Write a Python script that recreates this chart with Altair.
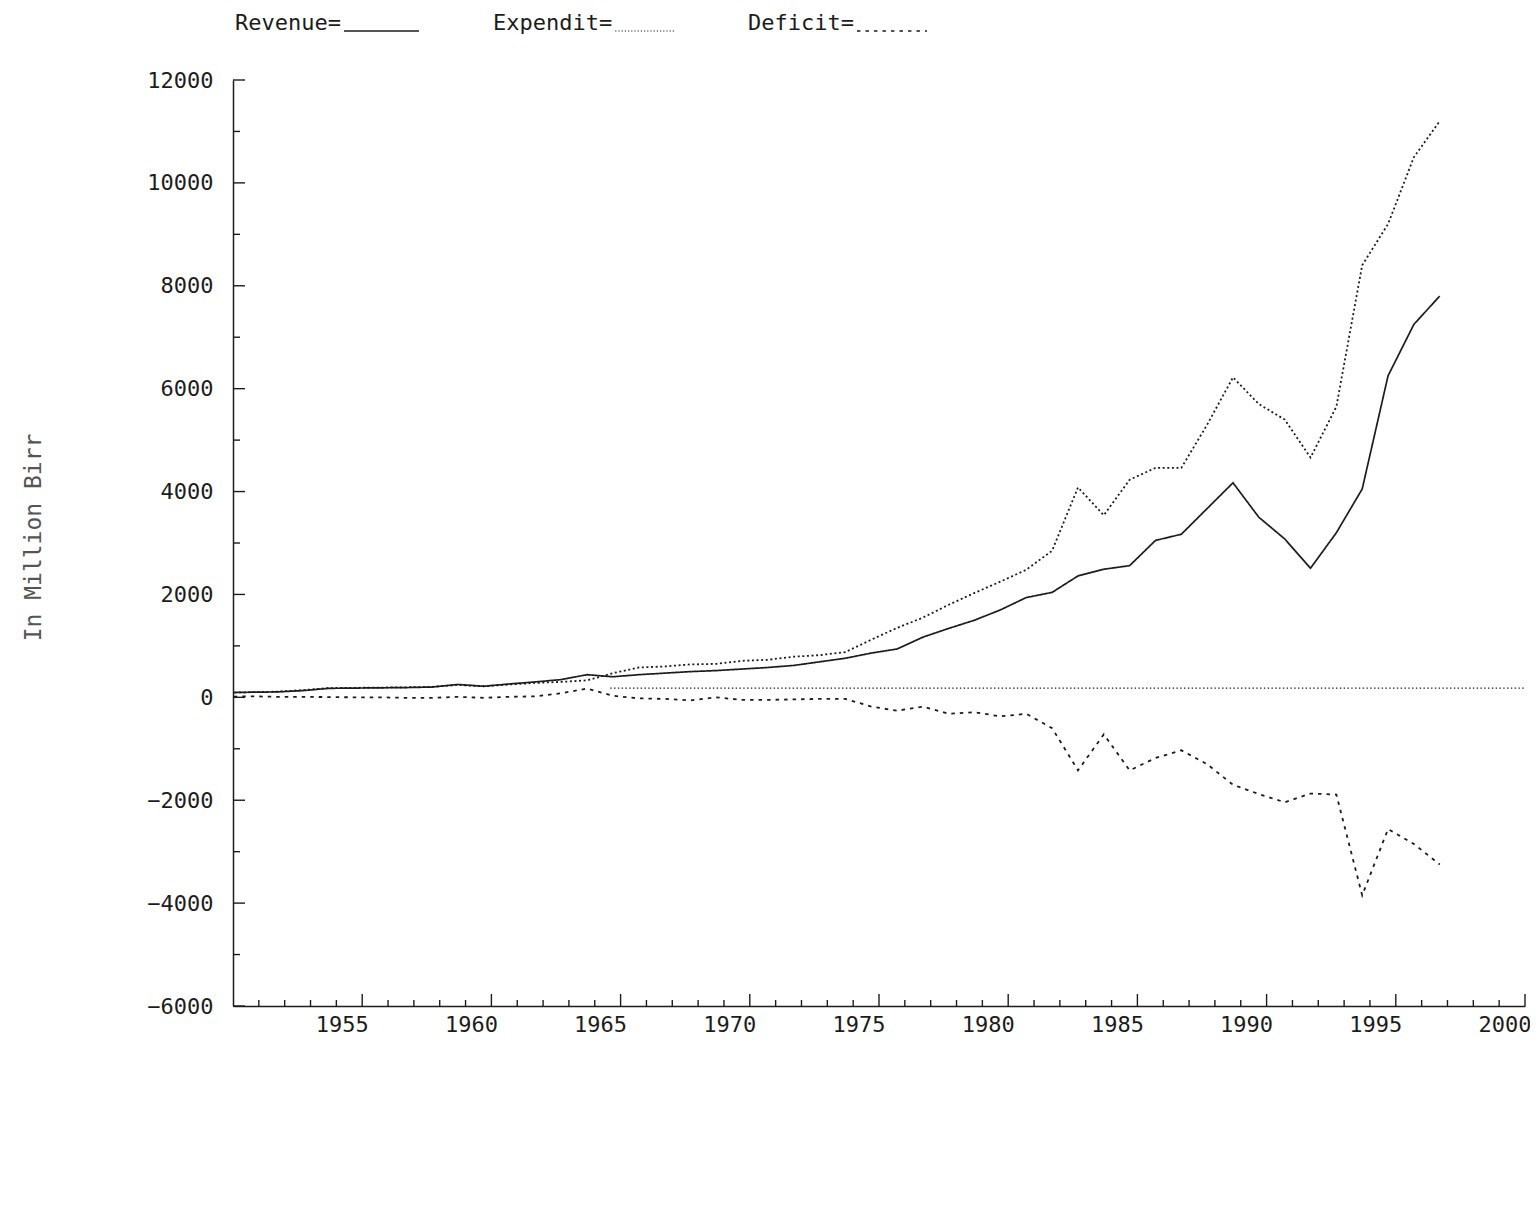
import altair as alt
import pandas as pd

# ---------------- data ----------------
years = list(range(1949, 1997))
revenue = [90, 100, 105, 130, 175, 180, 185, 190, 200, 250, 215, 260, 300, 345, 440, 400,
           440, 470, 500, 520, 550, 580, 620, 690, 760, 860, 940, 1170, 1340, 1500, 1700, 1940,
           2040, 2360, 2490, 2560, 3050, 3170, 3670, 4170, 3500, 3080, 2510, 3200, 4050, 6250,
           7250, 7800]
expenditure = [90, 100, 110, 140, 180, 185, 190, 195, 205, 240, 215, 250, 280, 300, 330, 470,
               580, 600, 640, 650, 710, 730, 790, 820, 880, 1120, 1350, 1550, 1800, 2030, 2250, 2480,
               2850, 4080, 3540, 4230, 4460, 4460, 5300, 6220, 5700, 5400, 4660, 5650, 8400, 9200,
               10500, 11200]
deficit = [10, 20, 10, 10, 5, 0, 0, -10, -10, 10, -10, 10, 20, 80, 170, 30,
           -20, -30, -60, 0, -50, -50, -40, -30, -30, -180, -260, -180, -320, -290, -370, -320,
           -600, -1420, -720, -1420, -1180, -1030, -1300, -1700, -1880, -2040, -1870, -1890, -3850, -2560,
           -2850, -3250]
ref_years = [1964.6, 2000]
ref_values = [180, 180]

series_names = ["Revenue", "Expenditure", "Deficit"]
legend_labels = ["Revenue=", "Expendit=", "Deficit="]
y_major = list(range(-6000, 12001, 2000))
y_minor = list(range(-5000, 12000, 2000))
x_major = list(range(1955, 2001, 5))
x_minor = [v for v in range(1951, 2000) if v % 5 != 0]

# fiscal-year points are drawn part way into the calendar year, as in the original
POINT_OFFSET = 0.7

# ---------------- styling ----------------
W, H = 1292, 926
MONO = "DejaVu Sans Mono"
INK = "#1c1c1c"
styles = {
    "Revenue": dict(strokeDash=[1, 0], strokeWidth=1.7),
    "Expenditure": dict(strokeDash=[2, 2.6], strokeWidth=1.8),
    "Deficit": dict(strokeDash=[3.5, 5], strokeWidth=1.8),
}

rows = []
for name, vals in zip(series_names, [revenue, expenditure, deficit]):
    for yr, v in zip(years, vals):
        rows.append({"year": yr, "value": v, "series": name})
df = pd.DataFrame(rows)

x_scale = alt.Scale(domain=[1950, 2000], nice=False, zero=False)
y_scale = alt.Scale(domain=[-6000, 12000], nice=False, zero=False)

x_axis = alt.Axis(values=x_major, format="d", tickSize=0, labelAlign="right", labelOffset=6,
                  labelPadding=8, labelFont=MONO, labelFontSize=22, labelColor=INK,
                  labelFlush=False, labelOverlap=False, grid=False, title=None,
                  domainColor=INK, domainWidth=1.5)
y_axis = alt.Axis(values=y_major, format="d", tickSize=0, labelPadding=20, labelFont=MONO,
                  labelFontSize=22, labelColor=INK, labelOverlap=False, grid=False,
                  domainColor=INK, domainWidth=1.5,
                  title="In Million Birr", titleFont=MONO, titleFontSize=23,
                  titleFontWeight="normal", titleColor="#555555", titleX=-200, titleY=457,
                  titleBaseline="middle")


def X(field):
    return alt.X(field, scale=x_scale, axis=x_axis)


def Y(field):
    return alt.Y(field, scale=y_scale, axis=y_axis)


layers = []
for name in series_names:
    st = styles[name]
    layer = alt.Chart(df).transform_filter(alt.datum.series == name).transform_calculate(
        xpos=f"datum.year + {POINT_OFFSET}"
    ).mark_line(clip=True, color=INK, strokeDash=st["strokeDash"], strokeWidth=st["strokeWidth"]).encode(
        x=X("xpos:Q"), y=Y("value:Q"),
    )
    layers.append(layer)

ref = alt.Chart(pd.DataFrame({"xpos": ref_years, "value": ref_values})).mark_line(
    color=INK, strokeDash=[1.4, 2.4], strokeWidth=1.3
).encode(x=X("xpos:Q"), y=Y("value:Q"))
layers.append(ref)


# inward tick marks
def yticks(vals, length):
    return alt.Chart(pd.DataFrame({"value": vals})).mark_rule(color=INK, strokeWidth=1.4).encode(
        y=Y("value:Q"), x=alt.value(0), x2=alt.value(length))


def xticks(vals, length):
    return alt.Chart(pd.DataFrame({"xpos": vals})).mark_rule(color=INK, strokeWidth=1.4).encode(
        x=X("xpos:Q"), y=alt.value(H), y2=alt.value(H - length))


layers += [yticks(y_major, 12), yticks(y_minor, 7), xticks(x_major, 12), xticks(x_minor, 6)]

# legend line at the top
legend_x = [2, 260, 515]
char_w = 22 * 0.602
sample_len = {"Revenue": 75, "Expenditure": 60, "Deficit": 70}
for label, name, lx in zip(legend_labels, series_names, legend_x):
    st = styles[name]
    layers.append(alt.Chart(pd.DataFrame({"t": [label]})).mark_text(
        align="left", baseline="alphabetic", font=MONO, fontSize=22, color=INK
    ).encode(text="t:N", x=alt.value(lx), y=alt.value(-50)))
    start = lx + len(label) * char_w + 3
    layers.append(alt.Chart(pd.DataFrame({"t": [label]})).mark_rule(
        color=INK, strokeDash=st["strokeDash"] if name != "Expenditure" else [1.2, 2],
        strokeWidth=1.6 if name != "Expenditure" else 1.2
    ).encode(x=alt.value(start), x2=alt.value(start + sample_len[name]), y=alt.value(-49)))

chart = alt.layer(*layers).properties(
    width=W, height=H,
    autosize=alt.AutoSizeParams(type="none"),
    padding={"left": 225, "top": 72, "right": 5, "bottom": 204},
    background="white",
).configure_view(stroke=None)

chart.save("out.html", embed_options={"renderer": "svg", "actions": False})
